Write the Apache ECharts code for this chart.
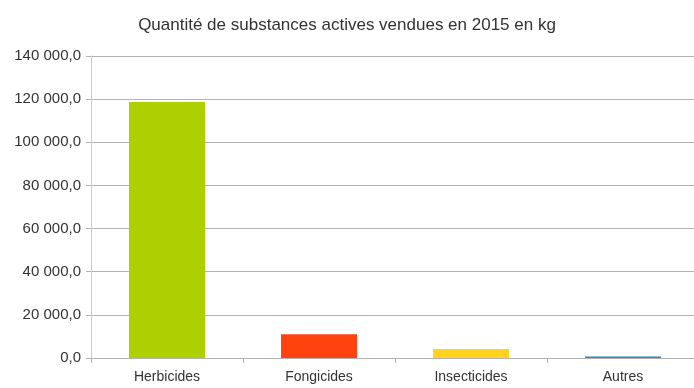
<!DOCTYPE html>
<html>
<head>
<meta charset="utf-8">
<script src="https://cdn.jsdelivr.net/npm/echarts@6/dist/echarts.min.js"></script>
<style>
  html, body { margin: 0; padding: 0; background: #ffffff; }
  #chart { width: 694px; height: 388px; }
</style>
</head>
<body>
<div id="chart"></div>
<script>
// Quantities of active substances sold in 2015 (kg), by product family
const categories = ['Herbicides', 'Fongicides', 'Insecticides', 'Autres'];
const quantities = [118700, 11000, 4200, 700];
const barColors = ['#aecf00', '#ff420e', '#ffd320', '#2a86c0'];
const chartTitle = 'Quantité de substances actives vendues en 2015 en kg';

// French number format: space as thousands separator, comma decimal, one decimal
function frNumber(v) {
  const parts = Number(v).toFixed(1).split('.');
  const intPart = parts[0].replace(/\B(?=(\d{3})+(?!\d))/g, ' ');
  return intPart + ',' + parts[1];
}

const font = '"Liberation Sans", Arial, sans-serif';
const chart = echarts.init(document.getElementById('chart'), null, { renderer: 'canvas' });

chart.setOption({
  animation: false,
  backgroundColor: '#ffffff',
  title: {
    text: chartTitle,
    left: 'center',
    top: 12,
    textStyle: { fontFamily: font, fontSize: 17, fontWeight: 'normal', color: '#333333' }
  },
  grid: {
    left: 91,
    top: 56,
    width: 608,
    height: 302,
    outerBoundsMode: 'none'
  },
  xAxis: {
    type: 'category',
    data: categories,
    boundaryGap: true,
    axisLine: { show: true, lineStyle: { color: '#b3b3b3', width: 1 } },
    axisTick: { show: true, length: 5, lineStyle: { color: '#b3b3b3' } },
    axisLabel: { fontFamily: font, fontSize: 14, color: '#333333', margin: 12 }
  },
  yAxis: {
    type: 'value',
    min: 0,
    max: 140000,
    interval: 20000,
    axisLine: { show: true, lineStyle: { color: '#cccccc', width: 1 } },
    axisTick: { show: true, length: 5, lineStyle: { color: '#b3b3b3' } },
    axisLabel: { fontFamily: font, fontSize: 15, color: '#333333', margin: 10, formatter: frNumber },
    splitLine: { show: true, lineStyle: { color: '#b3b3b3', width: 1 } }
  },
  series: [{
    type: 'bar',
    barWidth: '50%',
    data: quantities.map((v, i) => ({ value: v, itemStyle: { color: barColors[i] } }))
  }]
});
</script>
</body>
</html>
